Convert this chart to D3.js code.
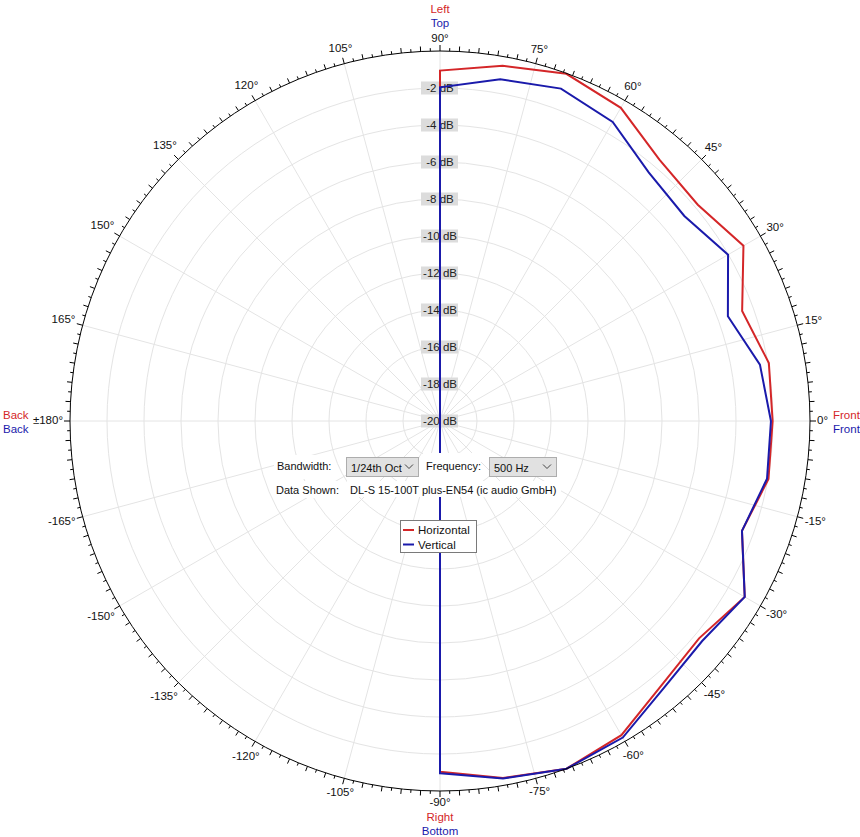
<!DOCTYPE html>
<html>
<head>
<meta charset="utf-8">
<script src="https://cdn.jsdelivr.net/npm/d3@7/dist/d3.min.js"></script>
<style>
  html, body { margin: 0; padding: 0; background: #ffffff; }
  svg { display: block; font-family: "Liberation Sans", Arial, sans-serif; }
</style>
</head>
<body>
<svg id="chart" width="860" height="837"></svg>
<script>
// ---- data ----
const angles = [-90, -80, -70, -60, -50, -40, -30, -20, -10, 0, 10, 20, 30, 40, 50, 60, 70, 80, 90];
const horizontal = [-1.04, -0.40, 0.00, -0.39, -1.36, -1.72, -0.98, -2.63, -1.97, -2.02, -1.95, -2.62, -1.06, -1.81, -1.55, -0.45, -0.03, -0.50, -1.06];
const vertical   = [-0.96, -0.38, 0.00, -0.24, -1.17, -1.50, -0.98, -2.63, -2.05, -2.11, -2.44, -3.44, -2.02, -2.76, -2.45, -1.33, -0.88, -1.24, -1.96];
const dbTicks = [-2, -4, -6, -8, -10, -12, -14, -16, -18, -20];
const angleTicks = [0, 15, 30, 45, 60, 75, 90, 105, 120, 135, 150, 165, 180, -165, -150, -135, -120, -105, -90, -75, -60, -45, -30, -15];
const angleTickLabels = ["0°", "15°", "30°", "45°", "60°", "75°", "90°", "105°", "120°", "135°", "150°", "165°", "±180°", "-165°", "-150°", "-135°", "-120°", "-105°", "-90°", "-75°", "-60°", "-45°", "-30°", "-15°"];
const seriesNames = ["Horizontal", "Vertical"];
const seriesColors = ["#d42628", "#1a1aab"];
const dbDomain = [-20, 0];

// ---- layout ----
const cx = 440, cy = 421, R = 370;
const svg = d3.select("#chart");
const g = svg.append("g").attr("transform", `translate(${cx},${cy})`);

const rScale = d3.scaleLinear().domain(dbDomain).range([0, R]).clamp(true);
const toRad = deg => (90 - deg) * Math.PI / 180; // d3 radial angle (clockwise from 12 o'clock)
const px = (deg, r) => r * Math.sin(toRad(deg));
const py = (deg, r) => -r * Math.cos(toRad(deg));

// grid circles
g.append("g").selectAll("circle")
  .data(dbTicks.filter(d => d > dbDomain[0]))
  .join("circle")
  .attr("r", d => rScale(d))
  .attr("fill", "none")
  .attr("stroke", "#e4e4e4")
  .attr("stroke-width", 1);

// spokes
g.append("g").selectAll("line")
  .data(angleTicks)
  .join("line")
  .attr("x1", 0).attr("y1", 0)
  .attr("x2", d => px(d, R)).attr("y2", d => py(d, R))
  .attr("stroke", "#e4e4e4")
  .attr("stroke-width", 1);

// dB labels
const dbl = g.append("g").selectAll("g")
  .data(dbTicks)
  .join("g")
  .attr("transform", d => `translate(0,${-rScale(d)})`);
dbl.append("rect")
  .attr("x", -19).attr("y", -6.5).attr("width", 37).attr("height", 13)
  .attr("fill", "#dcdcdc");
dbl.append("text")
  .attr("x", 0).attr("y", 4)
  .attr("text-anchor", "middle")
  .attr("font-size", 11.5)
  .attr("fill", "#222")
  .text(d => `${d} dB`);

// curves
const line = d3.lineRadial()
  .angle(d => toRad(d.angle))
  .radius(d => rScale(d.db))
  .curve(d3.curveLinearClosed);

[horizontal, vertical].forEach((vals, i) => {
  const pts = angles.map((a, j) => ({ angle: a, db: vals[j] }));
  pts.push({ angle: 180, db: dbDomain[0] }); // rear: below the floor -> centre
  g.append("path")
    .attr("d", line(pts))
    .attr("fill", "none")
    .attr("stroke", seriesColors[i])
    .attr("stroke-width", 2)
    .attr("stroke-linejoin", "miter");
});

// outer circle
g.append("circle").attr("r", R).attr("fill", "none").attr("stroke", "#000").attr("stroke-width", 1);

// ticks on outer circle
const minor = d3.range(0, 240).map(i => -180 + i * 1.5);
const tickLen = d => (Math.abs(d % 15) < 1e-6) ? 6 : (Math.abs(d % 3) < 1e-6 ? 5 : 3);
g.append("g").selectAll("line")
  .data(minor)
  .join("line")
  .attr("x1", d => px(d, R)).attr("y1", d => py(d, R))
  .attr("x2", d => px(d, R + tickLen(d)))
  .attr("y2", d => py(d, R + tickLen(d)))
  .attr("stroke", "#000")
  .attr("stroke-width", 1);

// angle labels
const fs = 11.5;
const angLab = g.append("g").selectAll("text")
  .data(angleTicks)
  .join("text")
  .attr("font-size", fs)
  .attr("fill", "#111")
  .attr("text-anchor", "middle")
  .text((d, i) => angleTickLabels[i]);
angLab.each(function(d) {
  const w = this.getComputedTextLength();
  const a = d * Math.PI / 180;
  const c = Math.cos(a), s = Math.sin(a);
  const rr = R + 7 + Math.abs(c) * w / 2 + Math.abs(s) * 5;
  d3.select(this).attr("x", rr * c).attr("y", -rr * s + 3);
});

// side labels
const sideLabels = [
  { t: ["Left", "Top"], x: cx, y: [13, 27], anchor: "middle" },
  { t: ["Right", "Bottom"], x: cx, y: [821, 835], anchor: "middle" },
  { t: ["Back", "Back"], x: 3, y: [419, 433], anchor: "start" },
  { t: ["Front", "Front"], x: 833, y: [419, 433], anchor: "start" }
];
sideLabels.forEach(sl => {
  sl.t.forEach((txt, i) => {
    svg.append("text")
      .attr("x", sl.x).attr("y", sl.y[i])
      .attr("text-anchor", sl.anchor)
      .attr("font-size", fs)
      .attr("fill", seriesColors[i])
      .text(txt);
  });
});

// controls overlay
const ui = svg.append("g").attr("font-size", 11).attr("fill", "#111");
const defs = svg.append("defs");
function label(x, y, txt, bx, bw, by, bh) {
  ui.append("rect").attr("x", bx).attr("y", by).attr("width", bw).attr("height", bh).attr("fill", "#fff");
  ui.append("text").attr("x", x).attr("y", y).text(txt);
}
let clipId = 0;
function combo(x, y, w, h, txt) {
  const id = "clip" + (clipId++);
  defs.append("clipPath").attr("id", id).append("rect")
    .attr("x", x + 1).attr("y", y).attr("width", w - 17).attr("height", h);
  ui.append("rect").attr("x", x + 0.5).attr("y", y + 0.5).attr("width", w).attr("height", h)
    .attr("fill", "#e1e1e1").attr("stroke", "#adadad");
  ui.append("text").attr("x", x + 5).attr("y", y + 14.5).attr("clip-path", `url(#${id})`).text(txt);
  const ax = x + w - 9, ay = y + h / 2;
  ui.append("path").attr("d", `M${ax - 4},${ay - 2} L${ax},${ay + 2} L${ax + 4},${ay - 2}`)
    .attr("fill", "none").attr("stroke", "#444").attr("stroke-width", 1);
}
label(277, 470, "Bandwidth:", 274, 60, 455, 24);
combo(346, 457, 72, 19, "1/24th Oct");
label(426, 470, "Frequency:", 423, 58, 453, 29);
combo(489, 457, 67, 19, "500 Hz");
label(276, 494, "Data Shown:", 274, 66, 481, 17);
label(350, 494, "DL-S 15-100T plus-EN54 (ic audio GmbH)", 347, 214, 481, 16);

// legend
const lg = svg.append("g").attr("transform", "translate(400,520)");
lg.append("rect").attr("x", 0.5).attr("y", 0.5).attr("width", 76).attr("height", 32)
  .attr("fill", "#fff").attr("stroke", "#7a7a7a");
seriesNames.forEach((n, i) => {
  lg.append("line").attr("x1", 3).attr("x2", 14).attr("y1", 10 + i * 14.5).attr("y2", 10 + i * 14.5)
    .attr("stroke", seriesColors[i]).attr("stroke-width", 2);
  lg.append("text").attr("x", 18).attr("y", 14 + i * 14.5).attr("font-size", 11.5).attr("fill", "#111").text(n);
});
</script>
</body>
</html>
